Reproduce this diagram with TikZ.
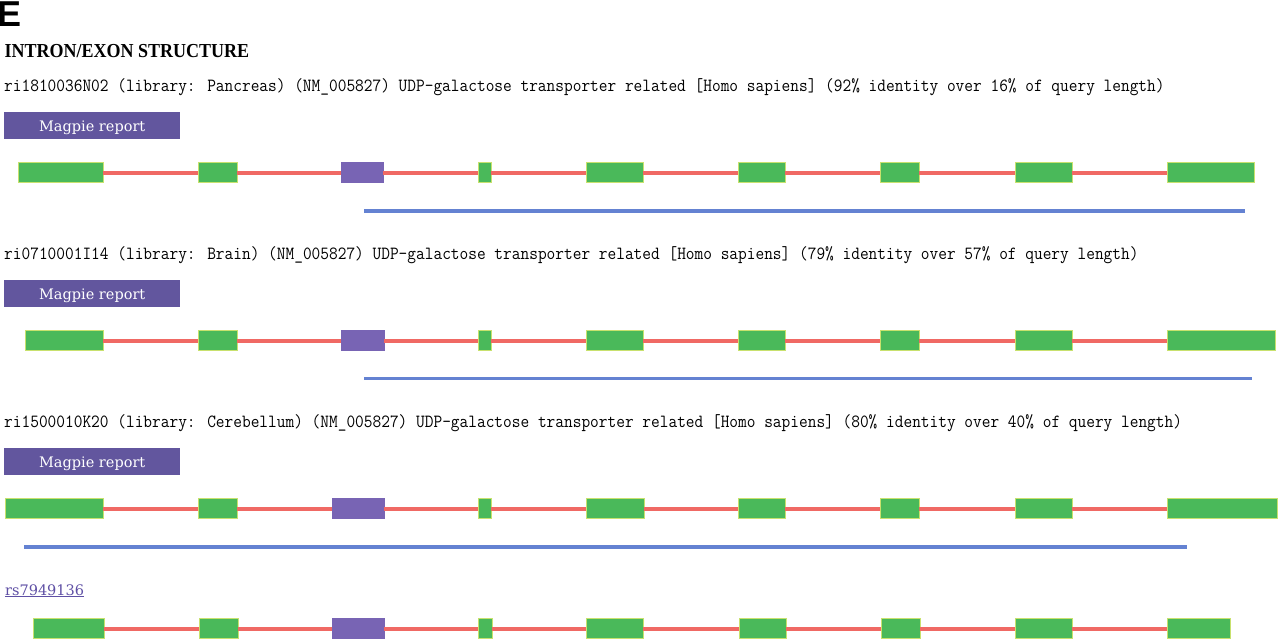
\documentclass[tikz,border=0pt]{standalone}
\usepackage{fontspec}
\setmainfont{Liberation Serif}
\newfontfamily\dvserif{DejaVu Serif}
\newfontfamily\lsans{Liberation Sans}
\definecolor{exongreen}{RGB}{74,185,90}
\definecolor{exonedge}{RGB}{200,225,110}
\definecolor{exonpurple}{RGB}{120,100,180}
\definecolor{intronred}{RGB}{240,105,100}
\definecolor{alignblue}{RGB}{100,130,210}
\definecolor{btnpurple}{RGB}{98,86,158}
\definecolor{linkpurple}{RGB}{95,80,165}
\newcommand\exonrow[3]{%
  \foreach \a/\b/\c [count=\k] in {#3} {
    \node[\c, minimum width={(\b-\a)*1pt}] (#1e\k) at (\a,#2) {};
  }
  \foreach \i [evaluate=\i as \j using int(\i+1)] in {1,...,8} {
    \draw[intron] (#1e\i.east) -- (#1e\j.west);
  }
}
\begin{document}
\begin{tikzpicture}[x=1pt,y=-1pt,
  exonbase/.style={rectangle, inner sep=0pt, outer sep=0pt, minimum height=19.5pt, anchor=west, line width=0.6pt},
  exg/.style={exonbase, fill=exongreen, draw=exonedge},
  exp/.style={exonbase, fill=exonpurple, draw=exonpurple},
  intron/.style={draw=intronred, line width=4pt},
  alignline/.style={draw=alignblue, line width=3.5pt},
  hdr/.style={anchor=base west, inner sep=0pt, font=\ttfamily\addfontfeature{FakeBold=2.5}\fontsize{16.9}{18}\selectfont},
  magpie/.style={fill=btnpurple, anchor=north west, inner sep=0pt, minimum width=176pt, minimum height=27pt,
    text=white, font=\dvserif\fontsize{14.5}{16}\selectfont, text height=14pt, text depth=3pt}
]
\useasboundingbox (0,0) rectangle (1280,640);
\fill[white] (0,0) rectangle (1280,640);

\node[anchor=base west, inner sep=0pt, font=\lsans\bfseries\fontsize{36}{36}\selectfont] (lab) at (-2.5,26) {E};
\node[anchor=base west, inner sep=0pt, font=\bfseries\fontsize{18}{20}\selectfont] (title) at (4.5,57) {\scalebox{1}[1.1]{INTRON/EXON STRUCTURE}};

% Row 1
\node[hdr] (h1) at (4,91) {\scalebox{1}[1.1]{ri1810036N02 (library: Pancreas) (NM\_005827) UDP-galactose transporter related [Homo sapiens] (92\% identity over 16\% of query length)}};
\node[magpie] (m1) at (4,112) {Magpie report};
\exonrow{ra}{172.5}{18/103/exg,198/237/exg,341/383/exp,478/491/exg,586/643/exg,738/785/exg,880/919/exg,1015/1072/exg,1167/1254/exg}
\coordinate (ba1) at (364,211);
\coordinate (ba2) at (1245,211);
\draw[alignline] (ba1) -- (ba2);

% Row 2
\node[hdr] (h2) at (4,259) {\scalebox{1}[1.1]{ri0710001I14 (library: Brain) (NM\_005827) UDP-galactose transporter related [Homo sapiens] (79\% identity over 57\% of query length)}};
\node[magpie] (m2) at (4,280) {Magpie report};
\exonrow{rb}{340.5}{25/103/exg,198/237/exg,341/384/exp,478/491/exg,586/643/exg,738/785/exg,880/919/exg,1015/1072/exg,1167/1275/exg}
\coordinate (bb1) at (364,378.5);
\coordinate (bb2) at (1252,378.5);
\draw[alignline] (bb1) -- (bb2);

% Row 3
\node[hdr] (h3) at (4,427) {\scalebox{1}[1.1]{ri1500010K20 (library: Cerebellum) (NM\_005827) UDP-galactose transporter related [Homo sapiens] (80\% identity over 40\% of query length)}};
\node[magpie] (m3) at (4,448) {Magpie report};
\exonrow{rc}{508.5}{5/103/exg,198/237/exg,332/384/exp,478/491/exg,586/644/exg,738/785/exg,880/919/exg,1015/1072/exg,1167/1277/exg}
\coordinate (bc1) at (24,547);
\coordinate (bc2) at (1187,547);
\draw[alignline] (bc1) -- (bc2);

% Row 4
\node[anchor=base west, inner sep=0pt, font=\dvserif\fontsize{14.5}{16}\selectfont, text=linkpurple] (snp) at (5,595) {\underline{rs7949136}};
\exonrow{rd}{628.5}{33/104/exg,199/238/exg,332/384/exp,478/492/exg,586/643/exg,739/786/exg,881/920/exg,1015/1072/exg,1167/1230/exg}
\end{tikzpicture}
\end{document}
